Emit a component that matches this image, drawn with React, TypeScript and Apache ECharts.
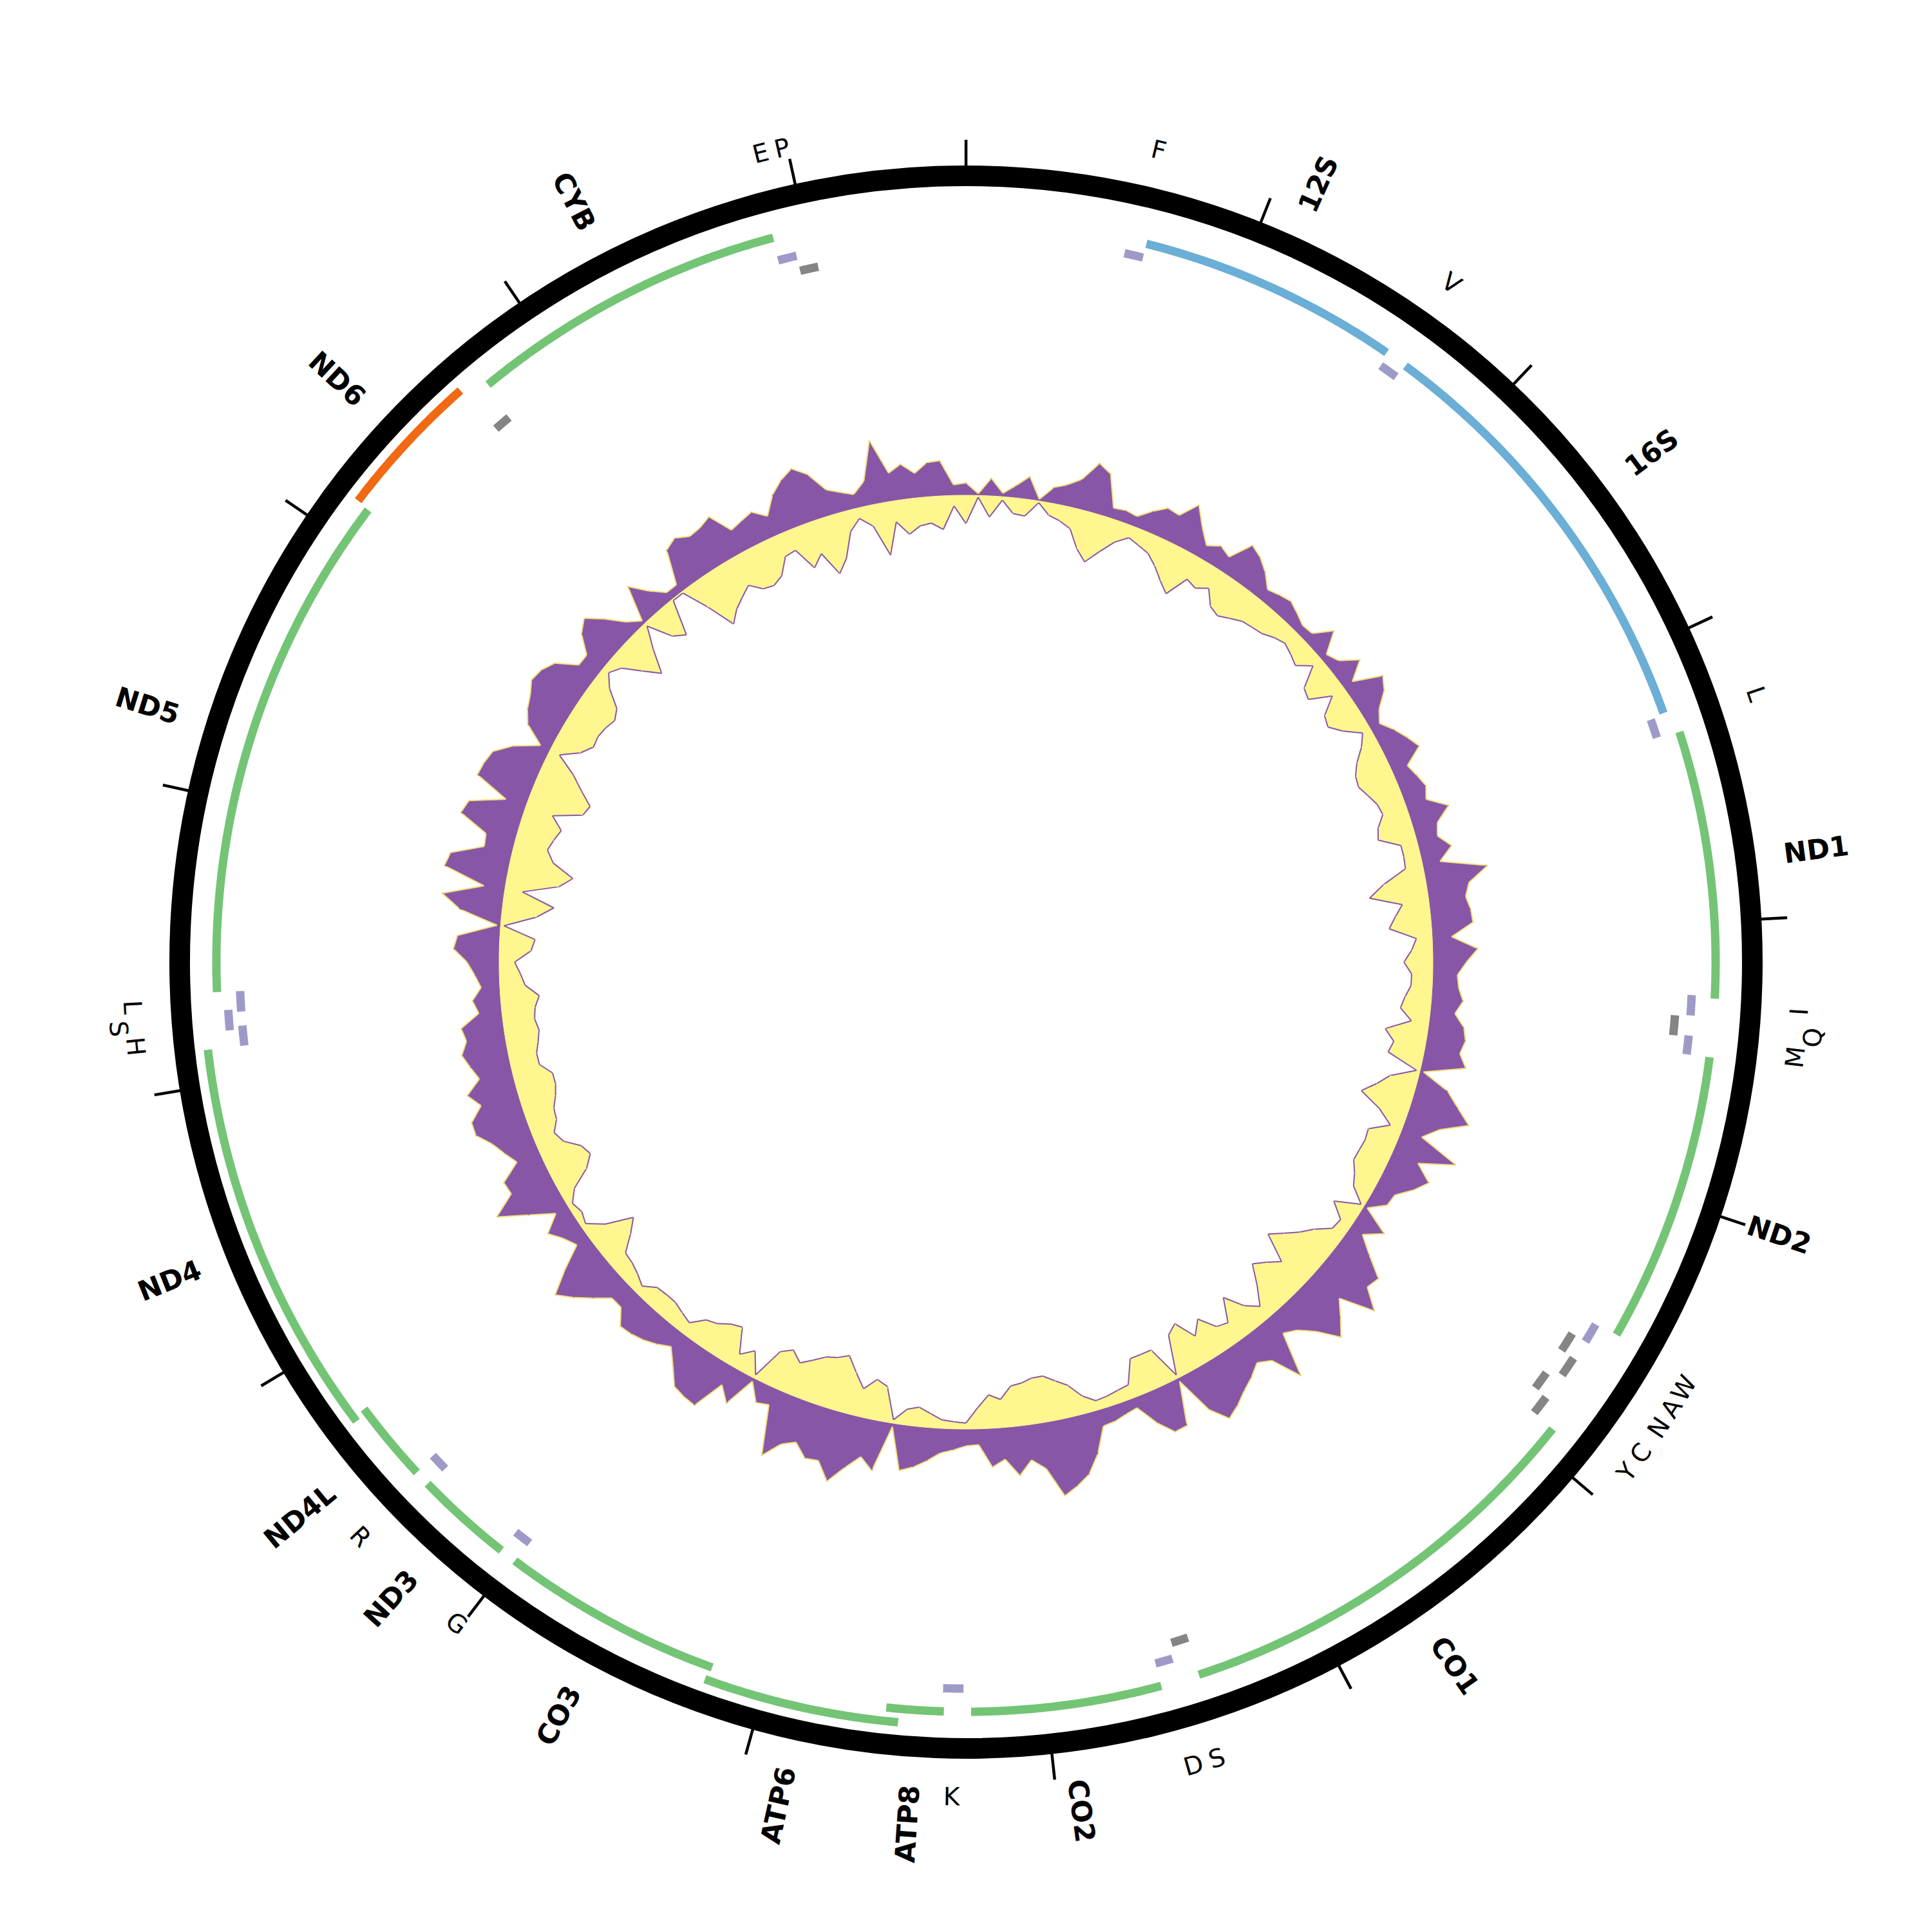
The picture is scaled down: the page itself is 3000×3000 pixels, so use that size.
import React, { useEffect, useRef } from "react";
import * as echarts from "echarts";

// ---------------- data ----------------
const GENOME_LENGTH = 16570;
const TICK_STEP = 1000;

// protein-coding genes
const cdsNames = ["ND1", "ND2", "CO1", "CO2", "ATP8", "ATP6", "CO3", "ND3", "ND4L", "ND4", "ND5", "ND6", "CYB"];
const cdsStarts = [3319, 4478, 5915, 7590, 8363, 8520, 9196, 10048, 10453, 10725, 12322, 14140, 14747];
const cdsEnds = [4271, 5514, 7452, 8267, 8566, 9206, 9988, 10398, 10743, 12124, 14135, 14660, 15884];
const cdsStrands = [1, 1, 1, 1, 1, 1, 1, 1, 1, 1, 1, -1, 1];
const cdsLevels = [0, 0, 0, 0, 0, 1, 0, 0, 0, 1, 0, 1, 0];

// ribosomal RNAs
const rrnaNames = ["12S", "16S"];
const rrnaStarts = [649, 1675];
const rrnaEnds = [1593, 3238];

// transfer RNAs
const trnaLabels = ["F", "V", "L", "I", "Q", "M", "W", "A", "N", "C", "Y", "S", "D", "K", "G", "R", "H", "S", "L", "", "E", "P"];
const trnaStarts = [580, 1602, 3245, 4262, 4340, 4409, 5519, 5592, 5666, 5767, 5840, 7448, 7525, 8294, 9984, 10393, 12124, 12184, 12248, 14665, 15880, 15949];
const trnaEnds = [649, 1671, 3314, 4336, 4414, 4478, 5592, 5666, 5740, 5836, 5910, 7512, 7589, 8368, 10048, 10458, 12197, 12257, 12322, 14729, 15949, 16018];
const trnaStrands = [1, 1, 1, 1, -1, 1, 1, -1, -1, -1, -1, -1, 1, 1, 1, 1, 1, 1, 1, -1, 1, -1];
const trnaLevels = [0, 0, 0, 0, 0, 0, 0, 0, 1, 0, 1, 0, 0, 0, 0, 0, 0, 1, 0, 0, 0, 0];
const trnaLabelStacked = [0, 0, 0, 0, 1, 0, 0, 0, 0, 0, 0, 0, 0, 0, 0, 0, 0, 1, 0, 0, 0, 0];

// GC track: 240 windows around the genome (outer / inner deviation, relative units)
const gcOuter = [
  35, 5, 50, 10, 35, 65, 5, 45, 60, 84,
  140, 120, 30, 35, 30, 60, 85, 80, 131, 80,
  40, 60, 46, 110, 95, 70, 35, 45, 53, 40,
  26, 30, 80, 20, 35, 84, 30, 110, 90, 50,
  30, 58, 80, 100, 46, 60, 73, 60, 115, 70,
  60, 92, 50, 180, 120, 105, 115, 118, 55, 128,
  95, 70, 75, 90, 70, 100, 110, 100, 125, 10,
  90, 130, 175, 100, 60, 180, 79, 130, 100, 60,
  55, 10, 90, 40, 90, 150, 140, 199, 100, 140,
  180, 120, 80, 60, 185, 100, 80, 105, 125, 150,
  170, 120, 10, 132, 134, 90, 30, 36, 45, 48,
  120, 170, 195, 215, 130, 100, 140, 90, 110, 45,
  48, 60, 70, 95, 116, 130, 10, 143, 110, 150,
  200, 150, 155, 120, 140, 190, 50, 60, 10, 100,
  60, 150, 145, 136, 90, 50, 70, 85, 95, 100,
  60, 60, 100, 140, 175, 110, 40, 60, 90, 40,
  110, 190, 123, 128, 70, 93, 115, 150, 150, 110,
  140, 95, 113, 130, 110, 120, 65, 80, 53, 70,
  91, 130, 120, 10, 120, 174, 60, 180, 170, 81,
  85, 170, 158, 60, 160, 155, 145, 100, 30, 90,
  112, 125, 145, 138, 118, 60, 60, 110, 133, 90,
  40, 10, 109, 60, 25, 25, 120, 135, 115, 120,
  134, 70, 80, 90, 60, 110, 140, 160, 130, 73,
  55, 40, 70, 180, 80, 100, 70, 97, 100, 30,
];
const gcInner = [
  80, 5, 60, 10, 45, 48, 5, 35, 45, 60,
  110, 140, 100, 60, 35, 45, 55, 80, 110, 135,
  70, 80, 60, 100, 110, 95, 80, 75, 70, 55,
  45, 55, 67, 30, 90, 100, 40, 90, 100, 70,
  25, 48, 80, 100, 105, 90, 75, 70, 95, 105,
  47, 47, 50, 120, 165, 76, 100, 120, 45, 60,
  82, 60, 60, 75, 85, 50, 120, 90, 100, 10,
  80, 110, 145, 80, 35, 89, 85, 88, 90, 70,
  55, 10, 80, 35, 40, 80, 107, 140, 171, 90,
  120, 144, 90, 40, 70, 125, 60, 70, 117, 80,
  140, 120, 10, 105, 106, 107, 40, 36, 30, 27,
  50, 90, 110, 130, 130, 120, 115, 80, 95, 60,
  17, 20, 24, 40, 55, 45, 10, 100, 114, 80,
  120, 160, 145, 136, 115, 94, 120, 100, 10, 70,
  40, 110, 100, 80, 70, 35, 45, 55, 55, 52,
  25, 40, 50, 54, 100, 135, 60, 15, 25, 15,
  42, 100, 128, 115, 75, 60, 80, 84, 100, 110,
  110, 80, 79, 90, 98, 90, 95, 110, 72, 60,
  44, 90, 100, 10, 100, 145, 50, 150, 184, 120,
  95, 105, 117, 80, 160, 170, 130, 90, 30, 80,
  104, 100, 105, 115, 100, 50, 20, 40, 90, 134,
  70, 10, 80, 103, 5, 5, 80, 160, 130, 110,
  90, 119, 125, 110, 65, 60, 126, 95, 165, 130,
  60, 30, 60, 150, 60, 100, 80, 75, 95, 30,
];

// ---------------- layout / style ----------------
const CENTER = [1500, 1494];
const RING_RADIUS = 1221;
const RING_WIDTH = 32;
const TICK_LEN = 56;
const GC_BASE = 725;
const GC_SCALE = 0.5485;
const BAND = 13;
const CDS_R = [1164, 1185];
const RRNA_R = 1150;
const TRNA_PLUS_R = [1128, 1148];
const TRNA_MINUS_R = [1104, 1126];
const GENE_LABEL_R = 1281;
const TRNA_LABEL_R = [1296, 1320];
const FONT = "DejaVu Sans";
const GENE_FONT_SIZE = 43;
const TRNA_FONT_SIZE = 39;

const C_CDS = "#74c476";
const C_CDS_MINUS = "#f16913";
const C_RRNA = "#6baed6";
const C_TRNA_PLUS = "#9e9ac8";
const C_TRNA_MINUS = "#858585";
const C_GC_OUT = "#8856a7";
const C_GC_IN = "#fff68f";

type Feature = { start: number; end: number; radius: number; color: string };
type Label = { text: string; pos: number; radius: number; kind: "gene" | "trna" };

function buildFeatures(): Feature[] {
  const out: Feature[] = [];
  cdsNames.forEach((_, i) =>
    out.push({
      start: cdsStarts[i],
      end: cdsEnds[i],
      radius: CDS_R[cdsLevels[i]],
      color: cdsStrands[i] > 0 ? C_CDS : C_CDS_MINUS,
    })
  );
  rrnaNames.forEach((_, i) => out.push({ start: rrnaStarts[i], end: rrnaEnds[i], radius: RRNA_R, color: C_RRNA }));
  trnaLabels.forEach((_, i) =>
    out.push({
      start: trnaStarts[i],
      end: trnaEnds[i],
      radius: trnaStrands[i] > 0 ? TRNA_PLUS_R[trnaLevels[i]] : TRNA_MINUS_R[trnaLevels[i]],
      color: trnaStrands[i] > 0 ? C_TRNA_PLUS : C_TRNA_MINUS,
    })
  );
  return out;
}

function buildLabels(): Label[] {
  const out: Label[] = [];
  cdsNames.forEach((n, i) => out.push({ text: n, pos: (cdsStarts[i] + cdsEnds[i]) / 2, radius: GENE_LABEL_R, kind: "gene" }));
  rrnaNames.forEach((n, i) => out.push({ text: n, pos: (rrnaStarts[i] + rrnaEnds[i]) / 2, radius: GENE_LABEL_R, kind: "gene" }));
  trnaLabels.forEach((n, i) => {
    if (!n) return;
    out.push({ text: n, pos: (trnaStarts[i] + trnaEnds[i]) / 2, radius: TRNA_LABEL_R[trnaLabelStacked[i]], kind: "trna" });
  });
  return out;
}

function buildOption() {
  const features = buildFeatures();
  const labels = buildLabels();
  const nWin = gcOuter.length;
  const winPos = (i: number) => (i * GENOME_LENGTH) / nWin;

  const gcSeries = {
    type: "custom",
    coordinateSystem: "polar",
    silent: true,
    z: 2,
    data: gcOuter.map((_, i) => [GC_BASE, winPos(i)]),
    renderItem: (params: any, api: any) => {
      const i = params.dataIndex;
      const j = (i + 1) % nWin;
      const a0 = winPos(i);
      const a1 = i + 1 < nWin ? winPos(i + 1) : GENOME_LENGTH;
      const b0 = api.coord([GC_BASE, a0]);
      const b1 = api.coord([GC_BASE, a1]);
      const o0 = api.coord([GC_BASE + gcOuter[i] * GC_SCALE, a0]);
      const o1 = api.coord([GC_BASE + gcOuter[j] * GC_SCALE, a1]);
      const n0 = api.coord([GC_BASE - gcInner[i] * GC_SCALE, a0]);
      const n1 = api.coord([GC_BASE - gcInner[j] * GC_SCALE, a1]);
      return {
        type: "group",
        children: [
          { type: "polygon", shape: { points: [b0, o0, o1, b1] }, style: { fill: C_GC_OUT, stroke: C_GC_OUT, lineWidth: 1 } },
          { type: "polygon", shape: { points: [b0, n0, n1, b1] }, style: { fill: C_GC_IN, stroke: C_GC_IN, lineWidth: 1 } },
          { type: "polyline", shape: { points: [o0, o1] }, style: { stroke: "#f3e27a", lineWidth: 2, fill: "none" } },
          { type: "polyline", shape: { points: [n0, n1] }, style: { stroke: C_GC_OUT, lineWidth: 2, fill: "none" } },
        ],
      };
    },
  };

  const featureSeries = {
    type: "custom",
    coordinateSystem: "polar",
    silent: true,
    z: 3,
    data: features.map((f) => [f.radius, f.start]),
    renderItem: (params: any, api: any) => {
      const f = features[params.dataIndex];
      const n = Math.max(2, Math.ceil((f.end - f.start) / 15));
      const outer: number[][] = [];
      const inner: number[][] = [];
      for (let k = 0; k <= n; k++) {
        const pos = f.start + ((f.end - f.start) * k) / n;
        outer.push(api.coord([f.radius + BAND / 2, pos]));
        inner.push(api.coord([f.radius - BAND / 2, pos]));
      }
      return { type: "polygon", shape: { points: outer.concat(inner.reverse()) }, style: { fill: f.color } };
    },
  };

  const labelSeries = {
    type: "custom",
    coordinateSystem: "polar",
    silent: true,
    z: 4,
    data: labels.map((l) => [l.radius, l.pos]),
    renderItem: (params: any, api: any) => {
      const l = labels[params.dataIndex];
      const c = api.coord([0, 0]);
      const p = api.coord([l.radius, l.pos]);
      let deg = (Math.atan2(p[0] - c[0], -(p[1] - c[1])) * 180) / Math.PI;
      if (deg < 0) deg += 360;
      let rot: number;
      let align: string;
      if (l.kind === "gene") {
        if (deg < 180) {
          rot = 90 - deg;
          align = "left";
        } else {
          rot = 270 - deg;
          align = "right";
        }
      } else {
        rot = deg > 90 && deg < 270 ? 180 - deg : -deg;
        align = "center";
      }
      return {
        type: "text",
        x: p[0],
        y: p[1],
        rotation: (rot * Math.PI) / 180,
        style: {
          text: l.text,
          fill: "#000",
          fontSize: l.kind === "gene" ? GENE_FONT_SIZE : TRNA_FONT_SIZE,
          fontFamily: FONT,
          fontWeight: l.kind === "gene" ? "bold" : "normal",
          align,
          verticalAlign: "middle",
        },
      };
    },
  };

  return {
    animation: false,
    backgroundColor: "#ffffff",
    polar: { center: CENTER, radius: [0, RING_RADIUS] },
    angleAxis: {
      type: "value",
      min: 0,
      max: GENOME_LENGTH,
      interval: TICK_STEP,
      startAngle: 90,
      clockwise: true,
      axisLine: { show: true, lineStyle: { color: "#000", width: RING_WIDTH } },
      axisTick: { show: true, length: TICK_LEN, lineStyle: { color: "#000", width: 4.5 } },
      axisLabel: { show: false },
      splitLine: { show: false },
      splitArea: { show: false },
    },
    radiusAxis: {
      type: "value",
      min: 0,
      max: RING_RADIUS,
      show: false,
      axisLine: { show: false },
      axisTick: { show: false },
      axisLabel: { show: false },
      splitLine: { show: false },
    },
    series: [gcSeries, featureSeries, labelSeries],
  };
}

export default function App() {
  const ref = useRef<HTMLDivElement>(null);
  useEffect(() => {
    if (!ref.current) return;
    const chart = echarts.init(ref.current, undefined, { renderer: "svg" });
    chart.setOption(buildOption() as any);
    return () => chart.dispose();
  }, []);
  return (
    <div
      ref={ref}
      style={{ position: "absolute", left: 0, top: 0, width: 3000, height: 3000, background: "#ffffff" }}
    />
  );
}
